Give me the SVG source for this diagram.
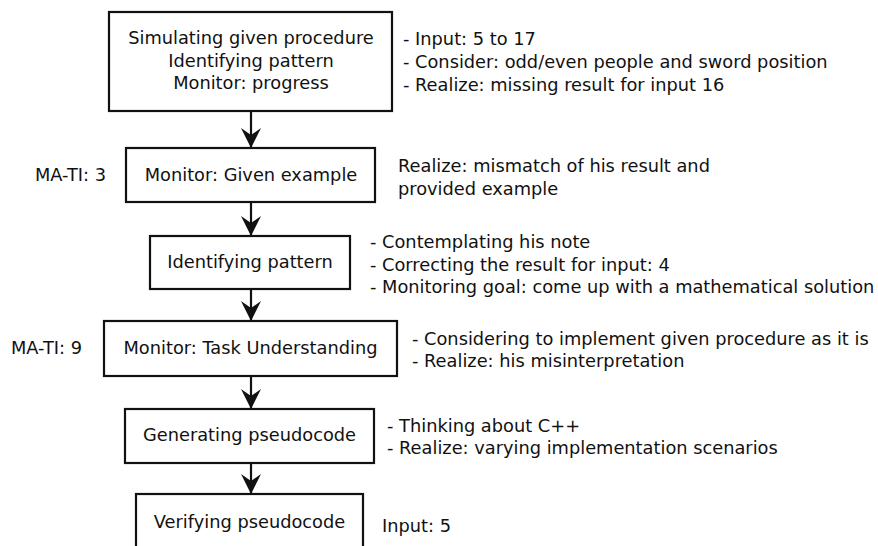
<svg xmlns="http://www.w3.org/2000/svg" width="878" height="546" viewBox="0 0 878 546">
<defs>
<style>
text{font-family:"DejaVu Sans","Liberation Sans",sans-serif;font-size:17.8px;fill:#111}
.c{text-anchor:middle}
.box{fill:#fff;stroke:#111;stroke-width:2.2}
.conn{stroke:#111;stroke-width:2.2;fill:none}
</style>
<marker id="ah" markerUnits="userSpaceOnUse" viewBox="0 0 20 20" refX="19" refY="10" markerWidth="20" markerHeight="20" orient="auto">
<path d="M0,0 L20,10 L0,20 L7,10 z" fill="#111"/>
</marker>
</defs>
<rect width="878" height="546" fill="#fff"/>
<g id="connectors">
<line class="conn" x1="251" y1="111" x2="251" y2="147" marker-end="url(#ah)"/>
<line class="conn" x1="251" y1="202" x2="251" y2="235" marker-end="url(#ah)"/>
<line class="conn" x1="251" y1="289" x2="251" y2="320" marker-end="url(#ah)"/>
<line class="conn" x1="251" y1="376" x2="251" y2="408" marker-end="url(#ah)"/>
<line class="conn" x1="251" y1="463" x2="251" y2="493" marker-end="url(#ah)"/>
</g>
<g id="n1">
<rect class="box" x="109" y="12" width="283" height="99"/>
<text class="c" x="251" y="44">Simulating given procedure</text>
<text class="c" x="251" y="67">Identifying pattern</text>
<text class="c" x="251" y="89">Monitor: progress</text>
</g>
<g id="n1-notes">
<text x="403" y="45">- Input: 5 to 17</text>
<text x="403" y="68">- Consider: odd/even people and sword position</text>
<text x="403" y="91">- Realize: missing result for input 16</text>
</g>
<g id="n2">
<rect class="box" x="126" y="148" width="249" height="54"/>
<text class="c" x="251" y="181">Monitor: Given example</text>
</g>
<g id="n2-side">
<text x="35" y="181">MA-TI: 3</text>
<text x="398" y="172">Realize: mismatch of his result and</text>
<text x="398" y="195">provided example</text>
</g>
<g id="n3">
<rect class="box" x="150" y="236" width="200" height="53"/>
<text class="c" x="250" y="268">Identifying pattern</text>
</g>
<g id="n3-notes">
<text x="370" y="248">- Contemplating his note</text>
<text x="370" y="271">- Correcting the result for input: 4</text>
<text x="370" y="293">- Monitoring goal: come up with a mathematical solution</text>
</g>
<g id="n4">
<rect class="box" x="104" y="321" width="293" height="55"/>
<text class="c" x="250.5" y="354">Monitor: Task Understanding</text>
</g>
<g id="n4-side">
<text x="11" y="354">MA-TI: 9</text>
<text x="412" y="345">- Considering to implement given procedure as it is</text>
<text x="412" y="367">- Realize: his misinterpretation</text>
</g>
<g id="n5">
<rect class="box" x="125" y="409" width="249" height="54"/>
<text class="c" x="249.5" y="441">Generating pseudocode</text>
</g>
<g id="n5-notes">
<text x="387" y="432">- Thinking about C++</text>
<text x="387" y="454">- Realize: varying implementation scenarios</text>
</g>
<g id="n6">
<rect class="box" x="136" y="494" width="227" height="60"/>
<text class="c" x="249.5" y="528">Verifying pseudocode</text>
</g>
<g id="n6-notes">
<text x="382" y="532">Input: 5</text>
</g>
</svg>
